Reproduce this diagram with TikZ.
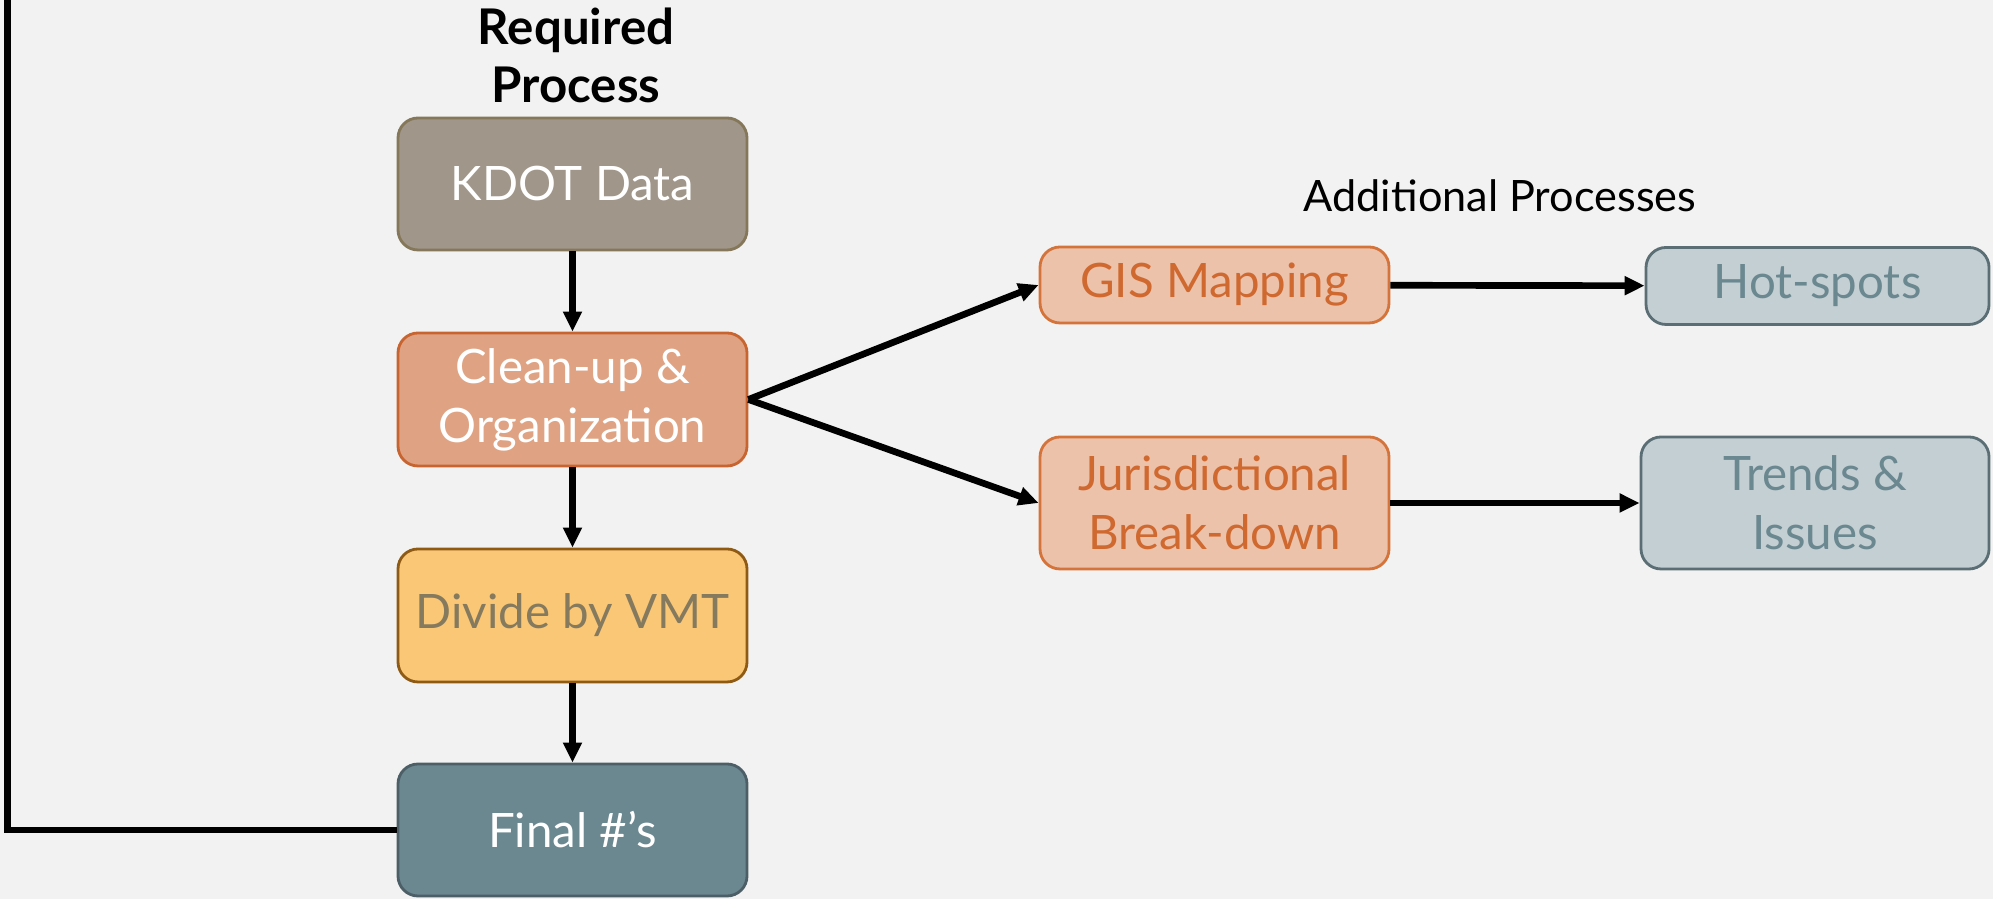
\documentclass[tikz,border=0pt]{standalone}
\usepackage{fontspec}
\setmainfont{Lato}
\usetikzlibrary{arrows.meta}

\definecolor{backgray}{HTML}{F2F2F2}
\definecolor{kdotfill}{HTML}{A09689}
\definecolor{kdotline}{HTML}{857759}
\definecolor{cleanfill}{HTML}{DFA383}
\definecolor{cleanline}{HTML}{C8642F}
\definecolor{dividefill}{HTML}{F9C776}
\definecolor{divideline}{HTML}{8F5B14}
\definecolor{dividetext}{HTML}{857A5E}
\definecolor{finalfill}{HTML}{6B8790}
\definecolor{finalline}{HTML}{4D5F66}
\definecolor{extrafill}{HTML}{ECC2AA}
\definecolor{extraline}{HTML}{D4733A}
\definecolor{extratext}{HTML}{CF6930}
\definecolor{resultfill}{HTML}{C3CFD3}
\definecolor{resultline}{HTML}{5A6E74}
\definecolor{resulttext}{HTML}{6B8790}

\begin{document}
\begin{tikzpicture}[
    box/.style={draw, line width=0.8pt, rounded corners=0.2cm,
        minimum width=3.49cm, align=center,
        font=\fontsize{13.5}{16.8}\selectfont},
    flow/.style={-{Triangle[length=0.2cm,width=0.18cm]}, line width=1.9pt}]
       % Background and page size
       \useasboundingbox[fill=backgray] (0,0) rectangle (19.93,8.99);
       % Headings
       \node (reqhead) [align=center, font=\fontsize{14}{16.5}\selectfont\bfseries]
           at (5.76,8.44) {Required\\Process};
       \node (addhead) [font=\fontsize{12.3}{15}\selectfont] at (15.0,7.03) {Additional Processes};
       % Required process column
       \node (kdot) [box, minimum height=1.32cm, fill=kdotfill, draw=kdotline, text=white]
           at (5.725,7.15) {KDOT Data};
       \node (clean) [box, minimum height=1.33cm, fill=cleanfill, draw=cleanline, text=white]
           at (5.725,4.995) {Clean-up \&\\Organization};
       \node (divide) [box, minimum height=1.33cm, fill=dividefill, draw=divideline, text=dividetext]
           at (5.725,2.835) {Divide by VMT};
       \node (final) [box, minimum height=1.32cm, fill=finalfill, draw=finalline, text=white]
           at (5.725,0.69) {Final \#’s};
       % Additional processes
       \node (gis) [box, minimum height=0.76cm, fill=extrafill, draw=extraline, text=extratext]
           at (12.145,6.14) {GIS Mapping};
       \node (juris) [box, minimum height=1.32cm, fill=extrafill, draw=extraline, text=extratext]
           at (12.145,3.96) {Jurisdictional\\Break-down};
       \node (hot) [box, minimum width=3.43cm, minimum height=0.77cm, fill=resultfill, draw=resultline, text=resulttext]
           at (18.175,6.13) {Hot-spots};
       \node (trends) [box, minimum width=3.48cm, minimum height=1.32cm, fill=resultfill, draw=resultline, text=resulttext]
           at (18.15,3.96) {Trends \&\\Issues};
       % Arrows
       \draw[flow] (kdot) -- (clean);
       \draw[flow] (clean) -- (divide);
       \draw[flow] (divide) -- (final);
       \draw[flow] (clean.east) -- (gis.west);
       \draw[flow] (clean.east) -- (juris.west);
       \draw[flow] (gis) -- (hot);
       \draw[flow] (juris) -- (trends);
       % Loop back line
       \coordinate (looptop) at (0.075,9.2);
       \draw[line width=1.9pt] (final.west) -| (looptop);
\end{tikzpicture}
\end{document}
